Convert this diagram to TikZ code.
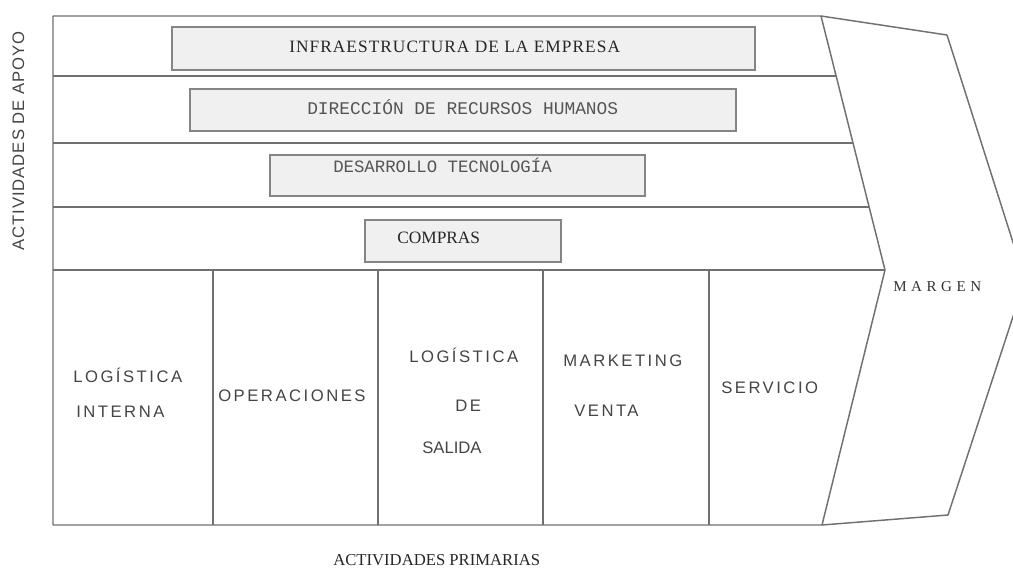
\documentclass[tikz,border=0pt]{standalone}
\usepackage{fontspec}
\setmainfont{Liberation Serif}
\setsansfont{Liberation Sans}
\setmonofont{Liberation Mono}
\newfontfamily\labelfont[LetterSpace=15]{Liberation Sans}
\newfontfamily\apoyofont[LetterSpace=6]{Liberation Sans}
\newfontfamily\barfont[LetterSpace=6]{Liberation Serif}
\newfontfamily\margenfont[LetterSpace=30]{Liberation Serif}
\usepackage{xcolor}
\usepackage{tikz}
\definecolor{framegray}{HTML}{707070}
\definecolor{bargray}{HTML}{F0F0F0}
\definecolor{bardraw}{HTML}{858585}
\definecolor{labelgray}{HTML}{444444}
\definecolor{monogray}{HTML}{555555}

\begin{document}
\begin{tikzpicture}[x=0.75pt,y=-0.75pt,
  frame/.style={draw=framegray, line width=1.1pt, line join=round},
  bar/.style={draw=bardraw, fill=bargray, line width=1pt},
  lbl/.style={anchor=base west, inner sep=0pt, text=labelgray, font=\labelfont\fontsize{12.5}{14}\selectfont},
  monolbl/.style={anchor=base west, inner sep=0pt, text=monogray, font=\ttfamily\fontsize{13}{15}\selectfont},
  seriflbl/.style={anchor=base west, inner sep=0pt, text=black!85}]
\useasboundingbox (0,0) rectangle (1013,569);
\clip (0,0) rectangle (1013,569);
\draw[frame] (947,35) -- (1025,280) -- (948,515) -- (822,525);
\draw[frame] (821,16) -- (947,35);
\draw[frame] (53,16) -- (821,16) -- (885,270) -- (822,525) -- (53,525) -- cycle;
\draw[frame] (53,76) -- (836,76);
\draw[frame] (53,143) -- (853,143);
\draw[frame] (53,207) -- (869,207);
\draw[frame] (53,270) -- (885,270);
\foreach \x in {213,378,543,709}
  \draw[frame] (\x,270) -- (\x,525);
\draw[bar] (172,27) rectangle (755,70);
\draw[bar] (190,89) rectangle (736,131);
\draw[bar] (270,155) rectangle (645,196);
\draw[bar] (365,220) rectangle (561,262);
\node[seriflbl, font=\barfont\fontsize{13}{15}\selectfont] (infra) at (289,52) {INFRAESTRUCTURA DE LA EMPRESA};
\node[monolbl, font=\ttfamily\fontsize{13.4}{15}\selectfont] (rrhh) at (307,114) {DIRECCIÓN DE RECURSOS HUMANOS};
\node[monolbl] (tecno) at (333,172) {DESARROLLO TECNOLOGÍA};
\node[seriflbl, font=\rmfamily\fontsize{13}{15}\selectfont] (compras) at (397,243) {COMPRAS};
\node[lbl] (login1) at (73,382) {LOGÍSTICA};
\node[lbl] (login2) at (76,417) {INTERNA};
\node[lbl] (oper) at (218,401) {OPERACIONES};
\node[lbl] (logout1) at (409,362) {LOGÍSTICA};
\node[lbl] (logout2) at (455,411) {DE};
\node[lbl, font=\sffamily\fontsize{12.5}{14}\selectfont] (logout3) at (422,453) {SALIDA};
\node[lbl] (mkt1) at (563,366) {MARKETING};
\node[lbl] (mkt2) at (574,416) {VENTA};
\node[lbl] (serv) at (721,393) {SERVICIO};
\node[seriflbl, text=black!80, font=\margenfont\fontsize{11.3}{13}\selectfont] (margen) at (893,291) {MARGEN};
\node[seriflbl, font=\rmfamily\fontsize{12.5}{14}\selectfont] (primarias) at (333,565) {ACTIVIDADES PRIMARIAS};
\node[anchor=base, inner sep=0pt, rotate=90, text=labelgray, font=\apoyofont\fontsize{12.5}{14}\selectfont] (apoyo) at (24,141) {ACTIVIDADES DE APOYO};
\end{tikzpicture}
\end{document}
